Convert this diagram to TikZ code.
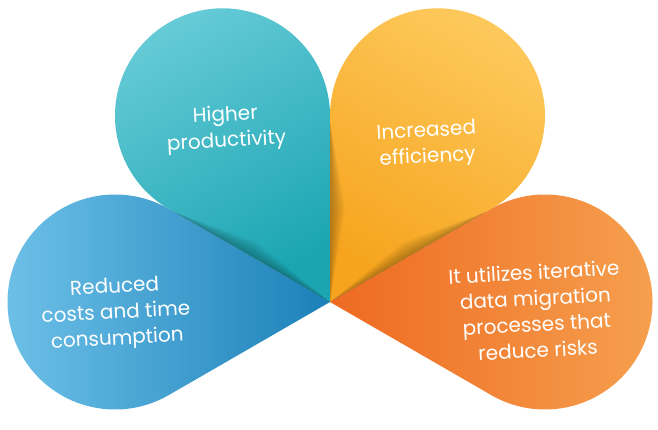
\documentclass[tikz,border=0pt]{standalone}
\usepackage{fontspec}
\setmainfont{Poppins}

\definecolor{tealL}{HTML}{68CCD8}
\definecolor{tealD}{HTML}{1BA5B2}
\definecolor{yellowL}{HTML}{FDC85A}
\definecolor{yellowD}{HTML}{F6A41E}
\definecolor{blueL}{HTML}{70C3EA}
\definecolor{blueD}{HTML}{1B80B8}
\definecolor{orangeL}{HTML}{F6A250}
\definecolor{orangeD}{HTML}{EE6A21}

\begin{document}
\begin{tikzpicture}[
    x=1pt, y=1pt,
    petaltext/.style={text=white, align=center, font=\fontsize{20}{26}\selectfont, rotate=3},
    seamshade/.style={fill=black, fill opacity=0.035, draw=none}
]
\useasboundingbox (0,0) rectangle (658,429);
\coordinate (tip) at (330,127);

% petals: axis angle / light colour / dark colour
\foreach \ang/\lc/\dc [evaluate=\ang as \sa using \ang-90] in
    {120/tealL/tealD, 60/yellowL/yellowD, 180/blueL/blueD, 0/orangeL/orangeD}
  \shade[top color=\lc, bottom color=\dc, shading angle=\sa]
    (tip) -- ++(\ang+30:186.2) arc[start angle=\ang+120, end angle=\ang-120, radius=107.5] -- cycle;

% soft shading along the seams
\foreach \s/\w in {90/-9, 150/-9, 30/9}
  \foreach \k in {1,...,8}
    \fill[seamshade, shift={(tip)}] (0,0) -- (\s+\w*\k/8:95) -- (\s:180) -- cycle;

\node[petaltext] (prod) at (226,300) {Higher\\productivity};
\node[petaltext] (eff) at (427,284) {Increased\\efficiency};
\node[petaltext] (cost) at (116,115) {Reduced\\costs and time\\consumption};
\node[petaltext] (risk) at (536,118) {It utilizes iterative\\data migration\\processes that\\reduce risks};
\end{tikzpicture}
\end{document}
